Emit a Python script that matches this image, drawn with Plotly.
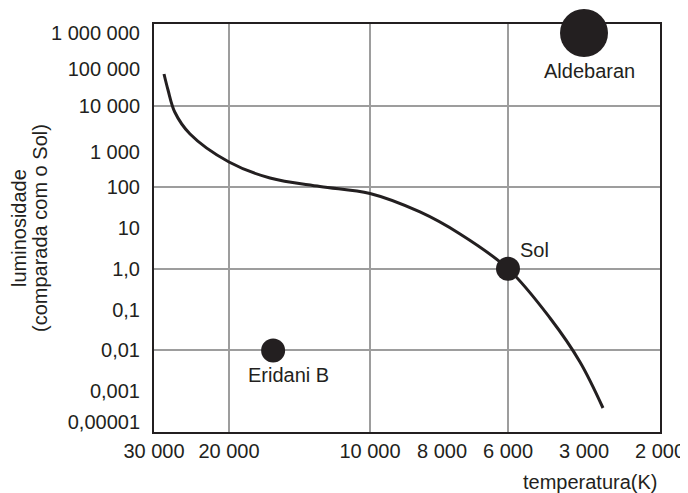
import numpy as np
import plotly.graph_objects as go

# ---- axis tick definitions (non-uniform, schematic axes) ----
temp_ticks = [30000, 20000, 10000, 8000, 6000, 3000, 2000]
temp_labels = ["30 000", "20 000", "10 000", "8 000", "6 000", "3 000", "2 000"]
temp_tick_pos = [0, 75, 216, 288, 354, 430, 506]
temp_grid = [20000, 10000, 6000]

lum_ticks = [1e-5, 1e-3, 1e-2, 1e-1, 1, 10, 100, 1000, 1e4, 1e5, 1e6]
lum_labels = ["0,00001", "0,001", "0,01", "0,1", "1,0", "10", "100",
              "1 000", "10 000", "100 000", "1 000 000"]
lum_tick_pos = [-3.75, -3, -2, -1, 0, 1, 2, 2.86, 4, 4.9, 5.78]
lum_grid = [1e4, 100, 1, 0.01]

# ---- main sequence curve (temperature K, luminosity) ----
curve_temp = [28420, 27810, 26800, 24690, 20000, 16350, 12790, 10000,
              8565, 7395, 6000, 4091, 3112, 2711]
curve_lum = [72560, 26600, 7200, 2451, 522.7, 183, 105.4, 70.1,
             24.7, 7.13, 1.0, 0.0622, 0.0052, 0.0000798]

# ---- stars ----
star_names = ["Aldebaran", "Sol", "Eridani B"]
star_temp = [3000, 6000, 16100]
star_lum = [1e6, 1.0, 0.01]
star_size = [48, 24, 24]


def tx(t):
    return np.interp(-np.log10(np.asarray(t, float)),
                     -np.log10(temp_ticks), temp_tick_pos)


def ly(l):
    return np.interp(np.log10(np.asarray(l, float)),
                     np.log10(lum_ticks), lum_tick_pos)


ink = "#231f20"
grid = "#9d9d9d"
font = "Liberation Sans, Arial, sans-serif"

fig = go.Figure()
fig.add_trace(go.Scatter(
    x=tx(curve_temp), y=ly(curve_lum), mode="lines",
    line=dict(color=ink, width=3, shape="spline", smoothing=1.0),
    hoverinfo="skip", showlegend=False))
fig.add_trace(go.Scatter(
    x=tx(star_temp), y=ly(star_lum), mode="markers",
    marker=dict(color=ink, size=star_size, opacity=1, line=dict(width=0)),
    cliponaxis=False, text=star_names, showlegend=False))

sx = tx(star_temp)
sy = ly(star_lum)
label_offsets = {"Aldebaran": (5, -38, "center"),
                 "Sol": (10, 19, "left"),
                 "Eridani B": (15, -25, "center")}
for name, x, y in zip(star_names, sx, sy):
    dx, dy, anchor = label_offsets[name]
    fig.add_annotation(x=x, y=y, text=name, showarrow=False,
                       xshift=dx, yshift=dy, xanchor=anchor, yanchor="middle",
                       font=dict(size=20, color=ink, family=font))

fig.add_annotation(xref="paper", yref="paper", x=-0.2668, y=0.5,
                   text="luminosidade", textangle=-90, showarrow=False,
                   xanchor="center", yanchor="middle",
                   font=dict(size=20, color=ink, family=font))
fig.add_annotation(xref="paper", yref="paper", x=-0.2253, y=0.5,
                   text="(comparada com o Sol)", textangle=-90, showarrow=False,
                   xanchor="center", yanchor="middle",
                   font=dict(size=20, color=ink, family=font))
fig.add_annotation(xref="paper", yref="paper", x=1.0, y=-0.1225,
                   text="temperatura(K)", showarrow=False,
                   xanchor="right", yanchor="middle",
                   font=dict(size=20, color=ink, family=font))

fig.update_xaxes(
    range=[0, 506], tickmode="array", tickvals=temp_tick_pos, ticktext=temp_labels,
    showgrid=False, zeroline=False, ticks="", automargin=False,
    showline=True, mirror=True, linecolor=ink, linewidth=2, layer="below traces",
    tickfont=dict(size=20, color=ink, family=font),
    minor=dict(tickmode="array", tickvals=list(tx(temp_grid)), showgrid=True,
               gridcolor=grid, gridwidth=2, ticks=""))
fig.update_yaxes(
    range=[-4, 6], tickmode="array", tickvals=lum_tick_pos, ticktext=lum_labels,
    showgrid=False, zeroline=False, ticks="", ticklabelstandoff=8, automargin=False,
    showline=True, mirror=True, linecolor=ink, linewidth=2, layer="below traces",
    tickfont=dict(size=20, color=ink, family=font),
    minor=dict(tickmode="array", tickvals=list(ly(lum_grid)), showgrid=True,
               gridcolor=grid, gridwidth=2, ticks=""))

# the page body adds an 8 px margin, so the figure is sized to fit the window
fig.update_layout(
    width=680, height=485,
    margin=dict(l=146, r=28, t=16, b=61),
    paper_bgcolor="white", plot_bgcolor="white",
    font=dict(family=font, color=ink))

fig.write_html("out.html")
